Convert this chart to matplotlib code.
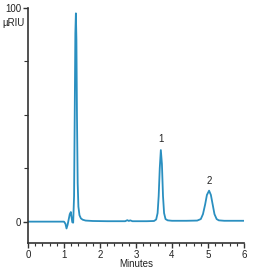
import matplotlib
matplotlib.use("Agg")
import matplotlib.pyplot as plt
from matplotlib.ticker import MultipleLocator

plt.rcParams['font.family'] = ['Liberation Sans', 'DejaVu Sans']

# Chromatogram trace (minutes, µRIU)
time_min = [0.0, 0.5, 1.00, 1.04, 1.07, 1.10, 1.13, 1.16, 1.19, 1.21, 1.23, 1.255,
            1.28, 1.30, 1.315, 1.33, 1.345, 1.36, 1.38, 1.40, 1.43, 1.47, 1.52, 1.6,
            1.8, 2.2, 2.70, 2.76, 2.80, 2.84, 2.90, 3.3, 3.50, 3.56, 3.60, 3.63,
            3.66, 3.69, 3.72, 3.75, 3.78, 3.82, 3.88, 4.0, 4.4, 4.70, 4.80, 4.86,
            4.92, 4.97, 5.03, 5.08, 5.13, 5.18, 5.24, 5.30, 5.45, 6.0]
signal = [0.0, 0.0, 0.0, -1.0, -3.2, -1.5, 1.0, 3.5, 4.5, 2.0, -0.3, -0.5,
          12.0, 55.0, 88.0, 97.5, 85.0, 50.0, 18.0, 7.0, 3.0, 1.5, 0.9, 0.5,
          0.3, 0.2, 0.2, 0.7, 0.3, 0.6, 0.2, 0.2, 0.3, 1.0, 4.0, 12.0,
          25.0, 33.5, 27.0, 12.0, 4.0, 1.2, 0.6, 0.4, 0.4, 0.5, 1.2, 3.5,
          8.0, 12.5, 14.5, 12.5, 8.0, 3.5, 1.2, 0.6, 0.4, 0.4]

peak_labels = ["1", "2"]
peak_times = [3.69, 5.03]
peak_label_y = [36.5, 16.5]

x_ticks = [0, 1, 2, 3, 4, 5, 6]
y_ticks = [0, 100]

line_color = "#2a8fc0"
axis_color = "#333333"

fig = plt.figure(figsize=(2.55, 2.70), dpi=100)
ax = fig.add_axes([28/255, 1 - 243/270, (244 - 28)/255, (243 - 8)/270])

ax.plot(time_min, signal, color=line_color, lw=1.3, solid_joinstyle='round')

for lab, t, yv in zip(peak_labels, peak_times, peak_label_y):
    ax.text(t, yv, lab, ha='center', va='bottom', fontsize=7, color='#222222')

ax.set_xlim(0, 6)
ax.set_ylim(-10, 100)
ax.set_xticks(x_ticks)
ax.xaxis.set_minor_locator(MultipleLocator(0.2))
ax.set_yticks(y_ticks)
ax.yaxis.set_minor_locator(MultipleLocator(25))

for s in ['top', 'right']:
    ax.spines[s].set_visible(False)
for s in ['left', 'bottom']:
    ax.spines[s].set_color(axis_color)
    ax.spines[s].set_linewidth(1.2)

ax.tick_params(axis='both', which='major', labelsize=7, colors=axis_color,
               labelcolor='#222222', width=1.0, length=3.5, pad=1.5)
ax.tick_params(axis='x', which='minor', length=2, width=0.8, colors=axis_color)
ax.tick_params(axis='y', which='minor', length=3, width=0.8, colors=axis_color)

fig.text(136/255, 1 - 264/270, "Minutes", fontsize=7, ha='center', va='center',
         color='#222222')
fig.text(14/255, 1 - 23.5/270, "µRIU", fontsize=7, ha='center', va='center',
         color='#222222')

fig.savefig("out.png", dpi=100)
